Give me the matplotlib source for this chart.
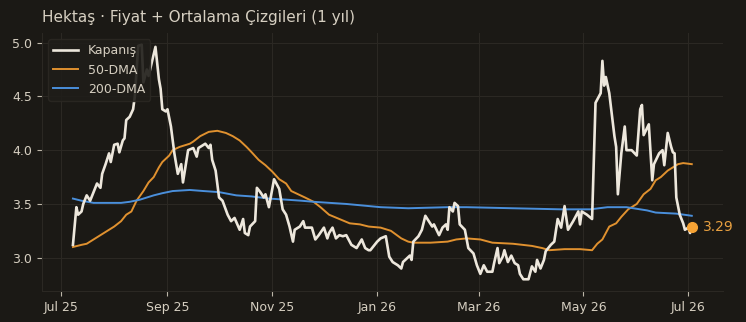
import pandas as pd
import matplotlib.pyplot as plt
import matplotlib.dates as mdates
from matplotlib.ticker import FormatStrFormatter

# data: days counted from 2025-07-01
price_day = [7, 9, 10, 12, 13, 15, 17, 19, 21, 23, 24, 26, 28, 29, 31, 33, 34, 36, 37, 38,
             40, 42, 43, 45, 47, 48, 50, 51, 55, 57, 58, 59, 61, 62, 64, 66, 68, 70, 71, 74,
             77, 79, 80, 84, 86, 87, 88, 90, 92, 94, 97, 99, 101, 104, 106, 107, 109, 110, 113, 114,
             116, 118, 119, 121, 124, 127, 129, 131, 133, 135, 136, 139, 141, 142, 146, 148, 150, 153, 155, 156,
             158, 160, 162, 164, 166, 169, 172, 175, 177, 179, 180, 184, 186, 189, 191, 193, 196, 198, 199, 201,
             203, 204, 205, 208, 210, 212, 214, 216, 217, 220, 222, 224, 225, 226, 228, 229, 231, 232, 235, 237,
             240, 242, 244, 246, 248, 251, 252, 254, 255, 257, 258, 260, 262, 264, 266, 267, 269, 272, 274, 276,
             277, 279, 281, 282, 285, 287, 289, 291, 293, 295, 298, 301, 302, 303, 306, 309, 311, 314, 315, 316,
             317, 319, 322, 323, 324, 326, 328, 329, 332, 335, 337, 338, 339, 342, 344, 345, 348, 350, 351, 353,
             355, 356, 357, 358, 360, 362, 363, 365, 366, 367]
price = [3.12, 3.47, 3.40, 3.43, 3.50, 3.58, 3.53, 3.61, 3.69, 3.65, 3.78, 3.87, 3.97, 3.89, 4.05, 4.06, 3.98, 4.09, 4.11, 4.28,
         4.31, 4.38, 4.50, 4.97, 4.98, 4.63, 4.75, 4.69, 4.96, 4.66, 4.57, 4.38, 4.36, 4.38, 4.22, 3.97, 3.78, 3.87, 3.70, 4.00,
         4.02, 3.94, 4.02, 4.06, 4.02, 4.05, 3.91, 3.81, 3.56, 3.53, 3.40, 3.34, 3.37, 3.26, 3.36, 3.23, 3.21, 3.29, 3.34, 3.65,
         3.61, 3.56, 3.59, 3.47, 3.73, 3.64, 3.45, 3.40, 3.29, 3.15, 3.26, 3.29, 3.34, 3.28, 3.28, 3.17, 3.21, 3.28, 3.18, 3.23,
         3.28, 3.18, 3.21, 3.20, 3.21, 3.12, 3.09, 3.17, 3.09, 3.07, 3.07, 3.15, 3.18, 3.20, 3.01, 2.96, 2.93, 2.90, 2.96, 2.99,
         3.02, 2.98, 3.15, 3.20, 3.26, 3.39, 3.34, 3.29, 3.31, 3.21, 3.28, 3.31, 3.26, 3.47, 3.43, 3.51, 3.48, 3.31, 3.26, 3.09,
         3.04, 2.93, 2.85, 2.93, 2.87, 2.87, 2.95, 3.09, 2.95, 3.01, 3.07, 2.96, 3.02, 2.95, 2.93, 2.85, 2.80, 2.80, 2.92, 2.87,
         2.98, 2.90, 2.98, 3.06, 3.12, 3.15, 3.36, 3.28, 3.48, 3.26, 3.34, 3.43, 3.31, 3.43, 3.40, 3.36, 4.44, 4.53, 4.83, 4.60,
         4.68, 4.53, 4.13, 4.03, 3.59, 3.97, 4.22, 4.00, 4.00, 3.95, 4.38, 4.42, 4.14, 4.24, 3.72, 3.87, 3.97, 4.00, 3.86, 4.16,
         4.03, 3.98, 3.97, 3.56, 3.40, 3.32, 3.26, 3.28, 3.23, 3.29]

dma50_day = [7, 12, 15, 19, 23, 27, 31, 35, 38, 41, 44, 48, 51, 54, 57, 59, 63, 65, 69, 75,
             77, 81, 86, 91, 96, 100, 104, 108, 111, 115, 119, 123, 127, 131, 134, 138, 142, 147, 151, 156,
             162, 168, 174, 179, 186, 192, 198, 202, 205, 215, 225, 230, 236, 244, 251, 263, 274, 280, 284, 293,
             302, 309, 312, 315, 319, 323, 326, 330, 335, 339, 343, 346, 349, 353, 356, 359, 362, 367]
dma50 = [3.10, 3.12, 3.13, 3.17, 3.21, 3.25, 3.29, 3.34, 3.40, 3.43, 3.53, 3.62, 3.70, 3.75, 3.84, 3.89, 3.95, 4.00, 4.03, 4.06,
         4.08, 4.13, 4.17, 4.18, 4.16, 4.13, 4.09, 4.03, 3.98, 3.91, 3.86, 3.80, 3.73, 3.69, 3.62, 3.59, 3.56, 3.52, 3.47, 3.40,
         3.36, 3.32, 3.31, 3.29, 3.28, 3.25, 3.18, 3.15, 3.14, 3.14, 3.15, 3.17, 3.18, 3.17, 3.14, 3.13, 3.11, 3.09, 3.07, 3.08,
         3.08, 3.07, 3.13, 3.17, 3.29, 3.32, 3.38, 3.45, 3.50, 3.59, 3.64, 3.72, 3.75, 3.81, 3.84, 3.87, 3.88, 3.87]

dma200_day = [7, 12, 19, 27, 35, 40, 46, 54, 59, 65, 75, 83, 92, 102, 111, 121, 131, 140, 147, 166,
              186, 202, 225, 236, 263, 291, 308, 318, 329, 341, 346, 358, 367]
dma200 = [3.55, 3.53, 3.51, 3.51, 3.51, 3.52, 3.54, 3.58, 3.60, 3.62, 3.63, 3.62, 3.61, 3.58, 3.57, 3.55, 3.54, 3.53, 3.52, 3.50,
          3.47, 3.46, 3.47, 3.47, 3.46, 3.45, 3.45, 3.47, 3.47, 3.44, 3.42, 3.41, 3.39]

start = pd.Timestamp("2025-07-01")
price_dates = start + pd.to_timedelta(price_day, unit="D")
dma50_dates = start + pd.to_timedelta(dma50_day, unit="D")
dma200_dates = start + pd.to_timedelta(dma200_day, unit="D")

bg = "#1b1915"
text_c = "#d6cfc1"
grid_c = "#2b2823"

fig = plt.figure(figsize=(7.46, 3.22), dpi=100)
fig.patch.set_facecolor(bg)
ax = fig.add_axes([0.0563, 0.0963, 0.9125, 0.8012])
ax.set_facecolor(bg)

ax.plot(price_dates, price, color="#ede7dc", lw=1.9, label="Kapanış", zorder=3)
ax.plot(dma50_dates, dma50, color="#e0912f", lw=1.4, label="50-DMA", zorder=2)
ax.plot(dma200_dates, dma200, color="#4a8fdb", lw=1.4, label="200-DMA", zorder=2)

# last value marker
ax.plot(price_dates[-1], price[-1], "o", color="#f5a234", ms=7, zorder=4)
ax.annotate(f"{price[-1]:.2f}", (price_dates[-1], price[-1]), xytext=(8, 0),
            textcoords="offset points", va="center", ha="left",
            color="#e8a040", fontsize=10)

ax.set_title("Hektaş · Fiyat + Ortalama Çizgileri (1 yıl)", loc="left",
             color=text_c, fontsize=11, pad=8)

ax.xaxis.set_major_locator(mdates.MonthLocator(bymonth=[1, 3, 5, 7, 9, 11]))
ax.xaxis.set_major_formatter(mdates.DateFormatter("%b %y"))
ax.yaxis.set_major_formatter(FormatStrFormatter("%.1f"))
ax.set_yticks([3.0, 3.5, 4.0, 4.5, 5.0])

ax.grid(True, color=grid_c, lw=0.8)
ax.set_axisbelow(True)
ax.tick_params(colors="#bdb6a8", labelcolor=text_c, labelsize=9, length=3.5)
for s in ["top", "right"]:
    ax.spines[s].set_visible(False)
for s in ["left", "bottom"]:
    ax.spines[s].set_color(grid_c)

leg = ax.legend(loc="upper left", fontsize=9, facecolor="#1f1d19",
                edgecolor="#2b2823", labelcolor=text_c, framealpha=0.9)

fig.savefig("out.png", dpi=100, facecolor=bg)
